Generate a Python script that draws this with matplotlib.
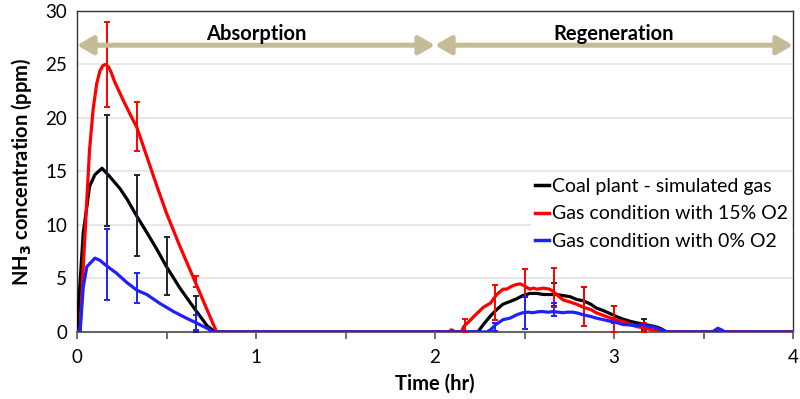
import matplotlib
matplotlib.use("Agg")
import matplotlib.pyplot as plt
import numpy as np

plt.rcParams['font.family'] = ['Lato', 'DejaVu Sans']

# ---------------- data ----------------
# Coal plant - simulated gas (black)
t_black = [0, 0.017, 0.035, 0.055, 0.07, 0.10, 0.14, 0.184, 0.24, 0.28, 0.335, 0.39, 0.447,
           0.50, 0.575, 0.66, 0.726, 0.77,
           2.24, 2.27, 2.31, 2.345, 2.38, 2.42, 2.456, 2.49, 2.53, 2.57, 2.605, 2.64, 2.68,
           2.715, 2.754, 2.79, 2.83, 2.87, 2.90, 2.94, 2.98, 3.02, 3.05, 3.09, 3.127, 3.16,
           3.20, 3.23, 3.257, 3.294, 4.0]
v_black = [0, 4.6, 9.3, 11.7, 13.6, 14.7, 15.3, 14.5, 13.4, 12.4, 10.8, 9.3, 7.7,
           6.1, 4.1, 2.1, 0.6, 0,
           0, 0.7, 1.5, 2.1, 2.6, 2.85, 3.1, 3.4, 3.6, 3.6, 3.5, 3.5, 3.5,
           3.4, 3.3, 3.05, 2.9, 2.6, 2.25, 2.0, 1.7, 1.4, 1.2, 1.0, 0.85, 0.75,
           0.6, 0.5, 0.35, 0, 0]

# Gas condition with 15% O2 (red)
t_red = [0, 0.017, 0.035, 0.055, 0.07, 0.09, 0.11, 0.128, 0.145, 0.16, 0.175, 0.19, 0.21,
         0.257, 0.307, 0.335, 0.39, 0.447, 0.50, 0.575, 0.66, 0.726, 0.78,
         2.08, 2.09, 2.10, 2.11, 2.149, 2.16, 2.185, 2.22, 2.27, 2.29, 2.31, 2.345, 2.38,
         2.40, 2.42, 2.447, 2.475, 2.50, 2.53, 2.55, 2.57, 2.605, 2.64, 2.66, 2.68, 2.715,
         2.755, 2.79, 2.83, 2.87, 2.90, 2.94, 2.98, 3.02, 3.05, 3.09, 3.127, 3.16, 3.20,
         3.257, 3.28, 3.55, 3.574, 3.60, 3.62, 4.0]
v_red = [0, 0, 6.1, 12.4, 17.0, 20.8, 23.2, 24.4, 24.9, 25.0, 24.8, 24.3, 23.4,
         21.7, 20.0, 19.1, 16.4, 13.6, 11.1, 8.0, 4.7, 2.1, 0,
         0, 0.2, 0.15, 0, 0.05, 0.5, 0.9, 1.5, 2.3, 2.5, 2.7, 3.5, 4.0,
         4.0, 4.2, 4.4, 4.5, 4.3, 4.0, 4.1, 4.0, 4.1, 4.0, 3.8, 3.5, 3.0,
         2.8, 2.6, 2.3, 2.1, 1.8, 1.55, 1.3, 1.1, 1.0, 0.7, 0.5, 0.4, 0.25,
         0.05, 0, 0, 0.25, 0.1, 0, 0]

# Gas condition with 0% O2 (blue)
t_blue = [0, 0.017, 0.035, 0.055, 0.10, 0.128, 0.156, 0.22, 0.28, 0.335, 0.39, 0.46,
          0.54, 0.61, 0.66, 0.726, 0.76,
          2.29, 2.31, 2.34, 2.38, 2.42, 2.456, 2.49, 2.52, 2.547, 2.58, 2.605, 2.63, 2.66,
          2.69, 2.715, 2.74, 2.77, 2.80, 2.83, 2.87, 2.90, 2.94, 2.98, 3.02, 3.05, 3.09,
          3.127, 3.16, 3.19, 3.22, 3.25, 3.275, 3.30, 3.55, 3.58, 3.60, 3.62, 4.0]
v_blue = [0, 0, 4.2, 6.1, 6.9, 6.7, 6.3, 5.5, 4.6, 3.9, 3.5, 2.7,
          1.9, 1.3, 0.9, 0.35, 0,
          0, 0.2, 0.7, 1.15, 1.3, 1.6, 1.8, 1.85, 1.8, 1.9, 1.9, 1.85, 1.9,
          1.85, 1.8, 1.85, 1.85, 1.75, 1.6, 1.45, 1.3, 1.15, 1.0, 0.85, 0.7, 0.65,
          0.6, 0.7, 0.55, 0.45, 0.3, 0.1, 0, 0, 0.35, 0.2, 0, 0]

# error bars (center, +/- error)
eb_t_black = [1/6, 1/3, 1/2, 2/3, 8/3, 17/6, 3.0, 19/6]
eb_v_black = [15.1, 10.9, 6.2, 1.7, 3.5, 2.9, 1.6, 0.7]
eb_e_black = [5.2, 3.8, 2.7, 1.7, 1.1, 1.3, 0.8, 0.5]

eb_t_red = [1/6, 1/3, 2/3, 13/6, 7/3, 2.5, 8/3, 17/6, 3.0, 19/6]
eb_v_red = [25.0, 19.2, 4.7, 0.6, 2.75, 4.6, 4.15, 2.4, 1.2, 0.4]
eb_e_red = [4.0, 2.3, 0.5, 0.6, 1.65, 1.3, 1.85, 1.8, 1.2, 0.4]

eb_t_blue = [1/6, 1/3, 2/3, 7/3, 2.5, 8/3]
eb_v_blue = [6.3, 4.1, 0.9, 0.45, 1.8, 2.1]
eb_e_blue = [3.3, 1.4, 0.7, 0.4, 1.5, 0.6]

series_labels = ["Coal plant - simulated gas", "Gas condition with 15% O2",
                 "Gas condition with 0% O2"]
phase_labels = ["Absorption", "Regeneration"]
x_ticks = [0, 1, 2, 3, 4]
y_ticks = [0, 5, 10, 15, 20, 25, 30]

# ---------------- figure ----------------
fig = plt.figure(figsize=(8, 3.99), dpi=100)
ax = fig.add_axes([0.09625, 0.168, 0.895, 0.8045])

ax.set_xlim(0, 4)
ax.set_ylim(0, 30)

for yv in y_ticks[1:-1]:
    ax.axhline(yv, color='#e3e3e3', lw=1.2, zorder=0)

lw = 2.3
ax.plot(t_black, v_black, color='black', lw=lw, label=series_labels[0], zorder=3)
ax.plot(t_red, v_red, color='#ff0000', lw=lw, label=series_labels[1], zorder=4)
ax.plot(t_blue, v_blue, color='#1f1fff', lw=lw, label=series_labels[2], zorder=5)

ekw = dict(fmt='none', capsize=2.2, elinewidth=1.4, capthick=1.4)
ax.errorbar(eb_t_black, eb_v_black, yerr=eb_e_black, ecolor='#1c2636', zorder=3.5, **ekw)
ax.errorbar(eb_t_red, eb_v_red, yerr=eb_e_red, ecolor='#ff0000', zorder=4.5, **ekw)
ax.errorbar(eb_t_blue, eb_v_blue, yerr=eb_e_blue, ecolor='#1f1fff', zorder=5.5, **ekw)

# phase arrows
arrow_col = '#c4bc96'
aprops = dict(arrowstyle='<|-|>,head_length=0.95,head_width=0.55', color=arrow_col,
              lw=3.6, shrinkA=0, shrinkB=0, mutation_scale=10)
ax.annotate('', xy=(0, 26.8), xytext=(2, 26.8), arrowprops=aprops, zorder=6)
ax.annotate('', xy=(2, 26.8), xytext=(4, 26.8), arrowprops=aprops, zorder=6)
ax.text(1.0, 27.85, phase_labels[0], ha='center', va='center', fontsize=14.5,
        fontweight='bold', zorder=7)
ax.text(3.0, 27.85, phase_labels[1], ha='center', va='center', fontsize=14.5,
        fontweight='bold', zorder=7)

# axes styling
ax.set_xticks(x_ticks)
ax.set_xticks([0.5, 1.5, 2.5, 3.5], minor=True)
ax.set_yticks(y_ticks)
ax.tick_params(axis='x', which='both', direction='out', length=5, width=1.2,
               color='#555555', labelsize=13.5, pad=7)
ax.tick_params(axis='y', length=0, labelsize=13.5, pad=7)
for s in ax.spines.values():
    s.set_color('#333333')
    s.set_linewidth(1.0)
ax.spines['bottom'].set_color('#666666')
ax.spines['bottom'].set_linewidth(1.5)

ax.set_xlabel('Time (hr)', fontsize=14.5, fontweight='bold', labelpad=6)
ax.set_ylabel('NH$_\\mathbf{3}$ concentration (ppm)', fontsize=14.5, fontweight='bold',
              labelpad=8)

leg = ax.legend(loc='center left', bbox_to_anchor=(0.634, 0.368), frameon=True,
                fontsize=14, handlelength=0.75, handletextpad=0.15,
                labelspacing=0.55, borderpad=0.2, borderaxespad=0)
leg.get_frame().set_facecolor('white')
leg.get_frame().set_edgecolor('none')
leg.get_frame().set_alpha(1)
for h in leg.get_lines():
    h.set_linewidth(2.5)

fig.savefig('out.png', dpi=100)
